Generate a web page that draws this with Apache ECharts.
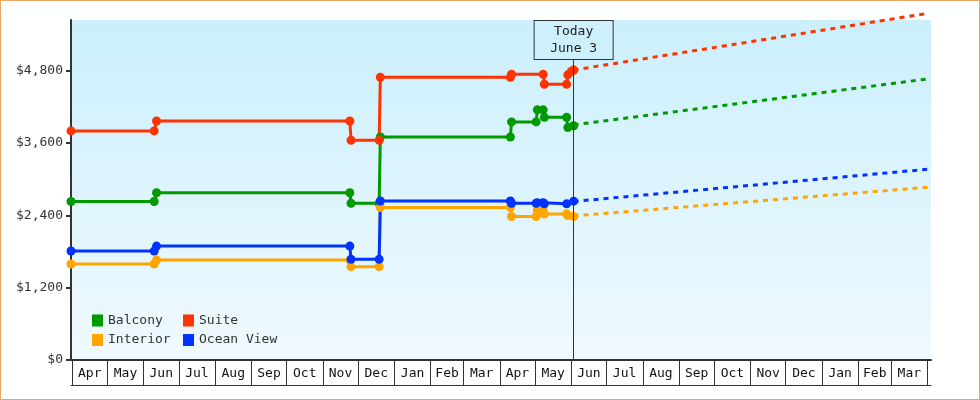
<!DOCTYPE html>
<html>
<head>
<meta charset="utf-8">
<script src="https://cdn.jsdelivr.net/npm/echarts@6/dist/echarts.min.js"></script>
<style>
  html, body { margin: 0; padding: 0; background: #fff; }
  #chart { position: absolute; left: 0; top: 0; width: 980px; height: 400px; }
  #frame { position: absolute; left: 0; top: 0; width: 980px; height: 400px;
           box-sizing: border-box; border: 1px solid #e8a863; pointer-events: none; }
</style>
</head>
<body>
<div id="chart"></div>
<div id="frame"></div>
<script>
// price history, [date, price]
const balconyPrices = [
  ['2013-03-31', 2630], ['2013-06-10', 2630], ['2013-06-12', 2775], ['2013-11-24', 2775],
  ['2013-11-25', 2600], ['2013-12-19', 2600], ['2013-12-20', 3700], ['2014-04-10', 3700],
  ['2014-04-11', 3950], ['2014-05-02', 3950], ['2014-05-03', 4150], ['2014-05-08', 4150],
  ['2014-05-09', 4025], ['2014-05-28', 4025], ['2014-05-29', 3855], ['2014-06-03', 3885]
];
const suitePrices = [
  ['2013-03-31', 3800], ['2013-06-10', 3800], ['2013-06-12', 3965], ['2013-11-24', 3965],
  ['2013-11-25', 3645], ['2013-12-19', 3645], ['2013-12-20', 4690], ['2014-04-10', 4690],
  ['2014-04-11', 4740], ['2014-05-08', 4740], ['2014-05-09', 4575], ['2014-05-28', 4575],
  ['2014-05-29', 4730], ['2014-06-01', 4785], ['2014-06-03', 4810]
];
const interiorPrices = [
  ['2013-03-31', 1593], ['2013-06-10', 1593], ['2013-06-12', 1657], ['2013-11-24', 1657],
  ['2013-11-25', 1548], ['2013-12-19', 1548], ['2013-12-20', 2530], ['2014-04-10', 2530],
  ['2014-04-11', 2380], ['2014-05-02', 2380], ['2014-05-03', 2480], ['2014-05-08', 2480],
  ['2014-05-09', 2420], ['2014-05-28', 2420], ['2014-05-29', 2395], ['2014-06-03', 2380]
];
const oceanViewPrices = [
  ['2013-03-31', 1808], ['2013-06-10', 1808], ['2013-06-12', 1890], ['2013-11-24', 1890],
  ['2013-11-25', 1670], ['2013-12-19', 1670], ['2013-12-20', 2638], ['2014-04-10', 2638],
  ['2014-04-11', 2600], ['2014-05-02', 2600], ['2014-05-03', 2610], ['2014-05-08', 2610],
  ['2014-05-09', 2590], ['2014-05-28', 2590], ['2014-06-03', 2635]
];

// forecast (dashed)
const forecastDates = ['2014-06-03', '2015-04-01'];
const balconyForecast = [3900, 4662];
const suiteForecast = [4810, 5750];
const interiorForecast = [2390, 2865];
const oceanViewForecast = [2630, 3164];

const todayDate = '2014-06-03';
const todayLabel = 'Today\nJune 3';

const monthNames = ['Apr', 'May', 'Jun', 'Jul', 'Aug', 'Sep', 'Oct', 'Nov', 'Dec', 'Jan', 'Feb', 'Mar'];
const yTicks = [0, 1200, 2400, 3600, 4800];

const ts = (s) => Date.parse(s + 'T00:00:00Z');
const DAY = 86400000;

// month boundaries and mid-month label positions
const monthStarts = [];
const monthMids = [];
const monthLabelOf = {};
for (let i = 0; i <= 24; i++) {
  const d = Date.UTC(2013, 3 + i, 1);
  monthStarts.push(d);
  if (i < 24) {
    const next = Date.UTC(2013, 4 + i, 1);
    const mid = (d + next) / 2;
    monthMids.push(mid);
    monthLabelOf[mid] = monthNames[i % 12];
  }
}

const xMin = ts('2013-03-31');
const xMax = ts('2015-04-01') + 3 * DAY;

const font = 'DejaVu Sans Mono';
const colors = {
  Balcony: '#009900',
  Suite: '#ff3300',
  Interior: '#ffa500',
  'Ocean View': '#0033ff'
};

const toData = (arr) => arr.map((p) => [ts(p[0]), p[1]]);
const toForecast = (vals) => forecastDates.map((d, i) => [ts(d), vals[i]]);

const historySeries = (name, arr) => ({
  name,
  type: 'line',
  data: toData(arr),
  symbol: 'circle',
  symbolSize: 9,
  showSymbol: true,
  clip: false,
  color: colors[name],
  lineStyle: { width: 3, color: colors[name] },
  itemStyle: { color: colors[name] },
  emphasis: { disabled: true },
  animation: false
});

const forecastSeries = (name, vals) => ({
  name,
  type: 'line',
  data: toForecast(vals),
  symbol: 'none',
  clip: false,
  color: colors[name],
  lineStyle: { width: 3, color: colors[name], type: [5, 5] },
  emphasis: { disabled: true },
  animation: false
});

const chart = echarts.init(document.getElementById('chart'));

const legendBase = {
  orient: 'vertical',
  top: 314,
  padding: 0,
  itemWidth: 11,
  itemHeight: 12,
  itemGap: 6.5,
  icon: 'rect',
  textStyle: { fontFamily: font, fontSize: 13, color: '#333', lineHeight: 13 }
};

chart.setOption({
  animation: false,
  grid: {
    left: 71, top: 20, right: 49, bottom: 40,
    show: true,
    borderWidth: 0,
    backgroundColor: new echarts.graphic.LinearGradient(0, 0, 0, 1, [
      { offset: 0, color: '#cbeffc' },
      { offset: 1, color: '#f0f9fe' }
    ])
  },
  legend: [
    Object.assign({}, legendBase, { left: 92, data: ['Balcony', 'Interior'] }),
    Object.assign({}, legendBase, { left: 183, data: ['Suite', 'Ocean View'] })
  ],
  xAxis: [
    {
      type: 'value',
      min: xMin,
      max: xMax,
      axisLine: { show: true, onZero: false, lineStyle: { color: '#333', width: 2 } },
      axisTick: { show: true, customValues: monthStarts, length: 25, lineStyle: { color: '#333', width: 1 } },
      axisLabel: {
        customValues: monthMids,
        formatter: (v) => monthLabelOf[v] || '',
        fontFamily: font, fontSize: 13, color: '#111', margin: 7
      },
      splitLine: { show: false }
    },
    {
      type: 'value',
      min: xMin,
      max: xMax,
      position: 'bottom',
      offset: 25,
      axisLine: { show: true, onZero: false, lineStyle: { color: '#333', width: 1 } },
      axisTick: { show: false },
      axisLabel: { show: false },
      splitLine: { show: false }
    }
  ],
  yAxis: {
    type: 'value',
    min: 0,
    max: 5640,
    interval: 1200,
    axisLine: { show: true, lineStyle: { color: '#333', width: 2 } },
    axisTick: { show: true, customValues: yTicks, length: 5, lineStyle: { color: '#333', width: 2 } },
    axisLabel: {
      customValues: yTicks,
      formatter: (v) => '$' + v.toLocaleString('en-US'),
      fontFamily: font, fontSize: 13, color: '#333', margin: 8
    },
    splitLine: { show: false }
  },
  series: [
    historySeries('Balcony', balconyPrices),
    historySeries('Suite', suitePrices),
    historySeries('Interior', interiorPrices),
    historySeries('Ocean View', oceanViewPrices),
    forecastSeries('Balcony', balconyForecast),
    forecastSeries('Interior', interiorForecast),
    forecastSeries('Ocean View', oceanViewForecast),
    Object.assign(forecastSeries('Suite', suiteForecast), {
      markLine: {
        silent: true,
        symbol: ['none', 'none'],
        animation: false,
        lineStyle: { color: '#333', width: 1, type: 'solid' },
        label: {
          show: true,
          position: 'end',
          distance: 20,
          formatter: todayLabel,
          fontFamily: font,
          fontSize: 13,
          color: '#222',
          lineHeight: 17,
          width: 78,
          padding: [3, 0, 1, 0],
          align: 'center',
          verticalAlign: 'middle',
          backgroundColor: '#cdf0fc',
          borderColor: '#333',
          borderWidth: 1
        },
        data: [[{ coord: [ts(todayDate), 0] }, { coord: [ts(todayDate), 4975] }]]
      }
    })
  ]
});
</script>
</body>
</html>
